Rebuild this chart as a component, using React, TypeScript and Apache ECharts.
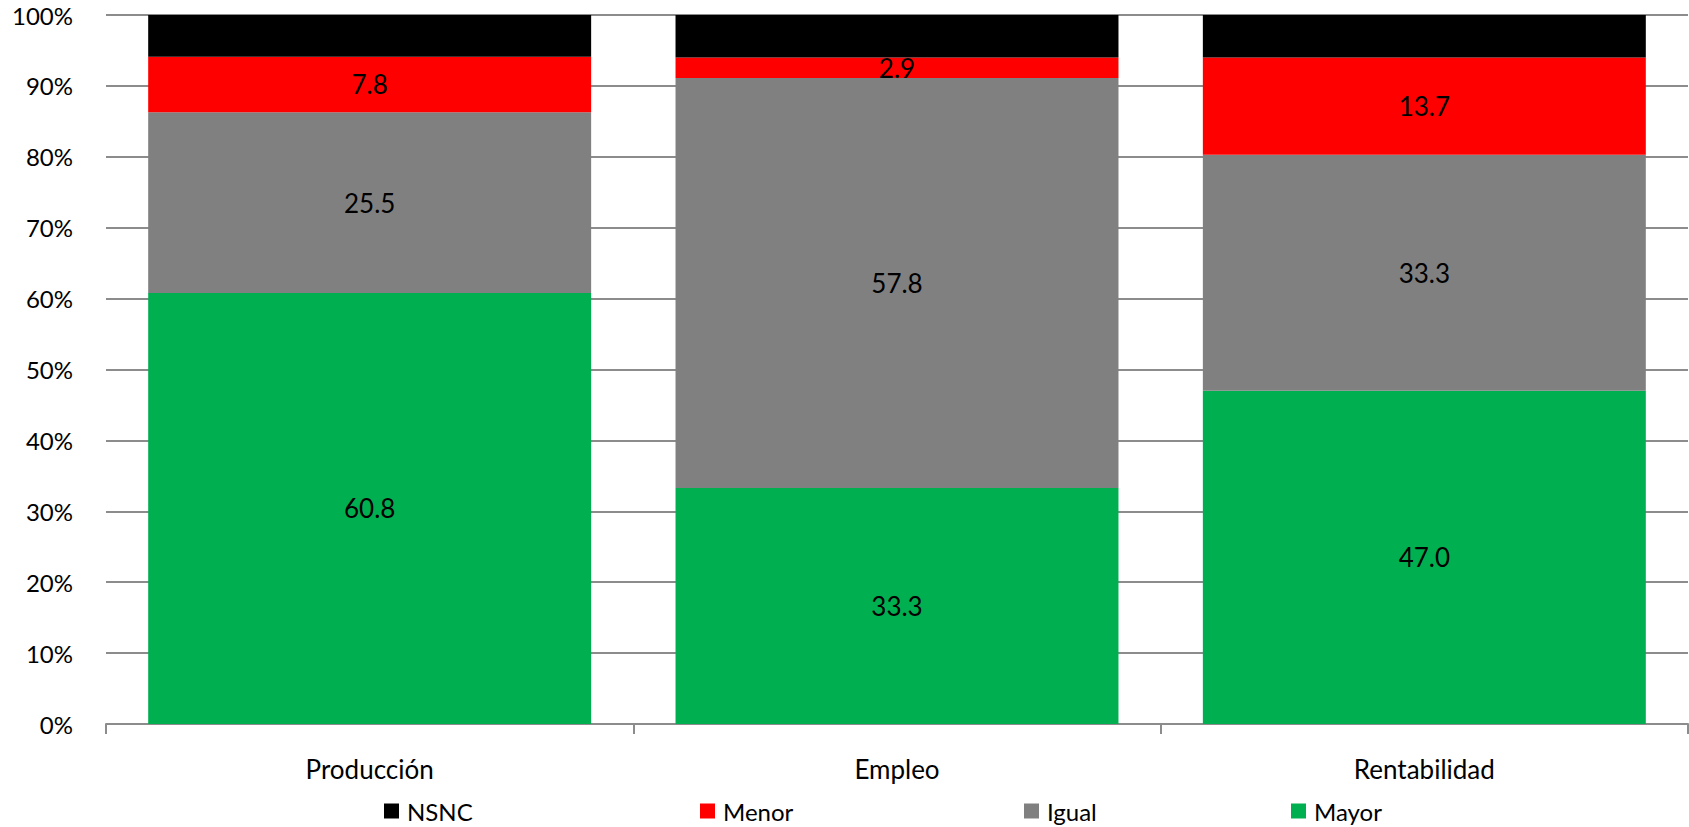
import React, { useEffect, useRef } from "react";
import * as echarts from "echarts";

const categories = ["Producción", "Empleo", "Rentabilidad"];
const mayor = [60.8, 33.3, 47.0];
const igual = [25.5, 57.8, 33.3];
const menor = [7.8, 2.9, 13.7];
const nsnc = [5.9, 6.0, 6.0];
const yTicks = [0, 10, 20, 30, 40, 50, 60, 70, 80, 90, 100];

const FONT = "Lato";

export default function App() {
  const ref = useRef<HTMLDivElement>(null);
  useEffect(() => {
    document.body.style.margin = "0";
    const chart = echarts.init(ref.current!, null, { renderer: "svg" });
    const label = {
      show: true,
      position: "inside",
      color: "#000",
      fontFamily: FONT,
      fontSize: 26,
      formatter: (p: any) => Number(p.value).toFixed(1),
    };
    const mk = (name: string, data: number[], color: string, showLabel: boolean) => ({
      name,
      type: "bar",
      stack: "all",
      data,
      barCategoryGap: "16%",
      itemStyle: { color },
      label: showLabel ? label : { show: false },
    });
    const legendBase = {
      top: 798,
      itemWidth: 15,
      itemHeight: 15,
      icon: "rect",
      padding: 0,
      textStyle: {
        fontFamily: FONT,
        fontSize: 24,
        lineHeight: 26,
        color: "#000",
        padding: [0, 0, 0, 3],
      },
    };
    chart.setOption({
      animation: false,
      grid: { left: 106, right: 1, top: 15, bottom: 103 },
      legend: [
        { ...legendBase, left: 384, data: ["NSNC"] },
        { ...legendBase, left: 700, data: ["Menor"] },
        { ...legendBase, left: 1024, data: ["Igual"] },
        { ...legendBase, left: 1291, data: ["Mayor"] },
      ],
      xAxis: {
        type: "category",
        data: categories,
        axisLine: { lineStyle: { color: "#8c8c8c", width: 2 } },
        axisTick: { show: true, length: 10, lineStyle: { color: "#8c8c8c", width: 2 } },
        axisLabel: { color: "#000", fontFamily: FONT, fontSize: 26, margin: 32 },
      },
      yAxis: {
        type: "value",
        min: 0,
        max: 100,
        interval: 10,
        axisLine: { show: false },
        axisTick: { show: false },
        splitLine: { lineStyle: { color: "#8c8c8c", width: 2 } },
        axisLabel: {
          color: "#000",
          fontFamily: FONT,
          fontSize: 24,
          lineHeight: 22,
          margin: 33,
          formatter: (v: number) => (yTicks.includes(v) ? v + "%" : ""),
        },
      },
      series: [
        mk("Mayor", mayor, "#00B050", true),
        mk("Igual", igual, "#808080", true),
        mk("Menor", menor, "#FF0000", true),
        mk("NSNC", nsnc, "#000000", false),
      ],
    });
    return () => chart.dispose();
  }, []);
  return <div ref={ref} style={{ width: 1689, height: 827 }} />;
}
